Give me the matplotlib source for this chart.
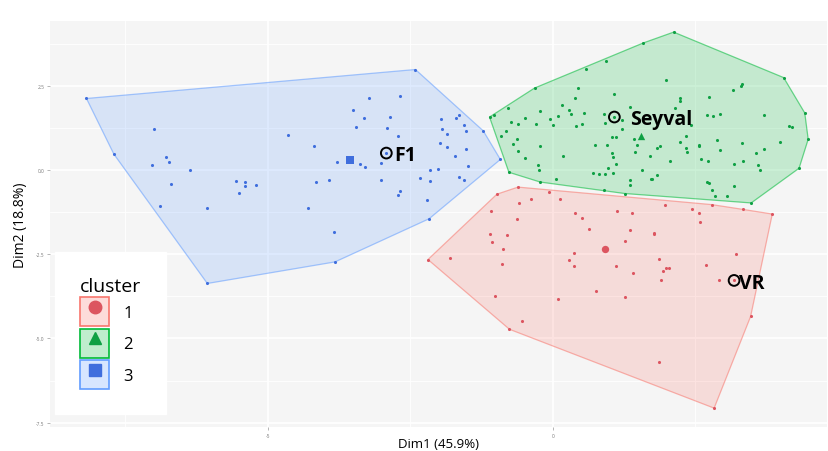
import matplotlib
matplotlib.use('Agg')
import matplotlib.pyplot as plt
from matplotlib.lines import Line2D
from matplotlib.patches import Patch
from matplotlib.colors import to_rgba
import numpy as np

plt.rcParams['font.family'] = ['Open Sans', 'DejaVu Sans']

# cluster 1 (red)
red_x = [-2.19, -0.98, -0.61, -0.60, -0.39, -0.06, 0.12, -1.09, -0.63, 0.39,
         0.51, 0.63, -1.11, -0.81, -1.07, -0.88, -1.81, 0.37, 0.28, 0.37,
         -0.89, 0.75, -1.02, 0.10, -0.54, -0.76, 3.85, 3.47, 2.83, 1.96,
         2.44, 2.79, 3.33, 1.12, 1.39, 2.56, 2.58, 1.35, 1.77, 1.78,
         1.27, 1.87, 3.21, 1.11, 2.69, 1.98, 2.03, 1.94, 1.41, 1.90,
         2.91, 3.18, 1.26, 1.86]
red_y = [-2.66, -0.72, -0.51, -0.97, -0.86, -0.66, -0.86, -1.23, -1.46, -1.27,
         -1.42, -1.75, -1.91, -1.93, -2.14, -2.36, -2.62, -2.46, -2.66, -2.85,
         -2.80, -3.59, -3.74, -3.84, -4.49, -4.73, -1.31, -4.35, -7.07, -1.03,
         -1.15, -1.03, -1.17, -1.23, -1.28, -1.28, -1.56, -1.78, -1.90, -1.87,
         -2.10, -2.63, -2.51, -2.84, -2.83, -2.92, -2.92, -3.01, -3.05, -3.26,
         -3.28, -3.28, -3.76, -5.70]

# cluster 2 (green)
green_x = [-1.11, -1.04, -0.78, -0.32, 0.58, 0.94, 1.59, 0.44, 0.39, 0.16,
           0.29, 0.54, 0.32, -0.22, -0.49, -0.05, 0.09, -0.74, -0.61, -0.29,
           0.01, 0.40, 0.52, 1.08, 1.36, 0.89, 1.08, 0.92, 1.21, 1.21,
           -0.82, -0.91, -0.62, -0.70, 1.03, 1.11, 1.43, -0.22, 0.74, 0.95,
           1.47, -0.61, 1.03, 1.45, 0.18, -0.49, 1.06, 1.71, -0.26, 1.11,
           0.97, -0.77, -0.25, 0.70, 0.81, 0.91, 1.06, 1.56, 0.06, -0.22,
           1.35, 1.73, 1.36, 0.89, 1.26, 2.12, 4.05, 4.42, 4.48, 4.32,
           3.48, 1.98, 3.32, 3.30, 3.16, 2.74, 2.23, 2.23, 2.15, 2.70,
           2.81, 2.93, 3.70, 2.42, 4.14, 4.19, 2.33, 2.88, 2.24, 3.32,
           3.98, 2.56, 2.57, 2.34, 2.35, 1.82, 1.88, 2.93, 3.70, 3.56,
           2.06, 2.60, 2.72, 3.17, 3.33, 3.60, 3.63, 1.82, 1.74, 2.70,
           2.74, 3.18, 2.79, 2.85, 3.05]
green_y = [1.57, 1.62, 1.85, 2.43, 2.99, 3.23, 3.77, 2.43, 2.12, 1.92,
           1.78, 1.69, 1.65, 1.76, 1.54, 1.51, 1.60, 1.42, 1.36, 1.36,
           1.34, 1.31, 1.37, 2.26, 1.87, 1.65, 1.57, 1.39, 1.48, 1.20,
           1.16, 1.02, 0.91, 0.78, 0.97, 0.97, 0.93, 0.72, 0.75, 0.73,
           0.75, 0.56, 0.51, 0.54, 0.42, 0.35, 0.39, 0.41, 0.16, 0.19,
           0.06, -0.07, 0.01, -0.08, -0.13, -0.11, -0.09, -0.01, -0.26, -0.36,
           -0.31, -0.27, -0.44, -0.60, -0.70, 4.09, 2.74, 1.69, 0.91, 0.05,
           -0.98, 2.66, 2.54, 2.49, 2.37, 2.16, 2.14, 2.05, 1.84, 1.63,
           1.61, 1.67, 1.62, 1.34, 1.30, 1.26, 1.01, 0.88, 0.83, 0.80,
           0.82, 0.74, 0.71, 0.66, 0.53, 0.64, 0.70, 0.58, 0.62, 0.51,
           0.27, 0.32, 0.26, 0.19, 0.27, 0.16, -0.01, -0.16, -0.28, -0.36,
           -0.38, -0.48, -0.61, -0.78, -0.78]

# cluster 3 (blue)
blue_x = [-8.18, -7.00, -7.70, -6.78, -6.73, -7.03, -6.37, -6.69, -5.55, -5.40,
          -5.40, -5.21, -5.50, -6.89, -6.07, -6.06, -4.64, -2.41, -3.22, -2.68,
          -3.50, -3.32, -2.86, -3.45, -2.91, -2.71, -4.19, -1.96, -1.69, -1.65,
          -1.55, -1.94, -1.85, -1.53, -1.22, -1.98, -1.86, -1.53, -1.71, -0.92,
          -3.78, -3.38, -3.29, -3.02, -2.92, -2.16, -2.01, -1.48, -2.33, -2.15,
          -1.64, -1.55, -3.02, -4.15, -3.92, -2.68, -2.72, -2.21, -4.30, -2.17,
          -3.84, -3.82]
blue_y = [2.12, 1.21, 0.47, 0.39, 0.24, 0.16, 0.00, -0.42, -0.32, -0.36,
          -0.47, -0.45, -0.69, -1.07, -1.14, -3.37, 1.05, 2.98, 2.14, 2.19,
          1.79, 1.53, 1.56, 1.28, 1.23, 1.00, 0.71, 1.51, 1.53, 1.62,
          1.34, 1.21, 1.08, 1.15, 1.16, 0.80, 0.67, 0.61, 0.42, 0.31,
          0.23, 0.17, 0.09, 0.22, 0.50, 0.01, 0.04, 0.11, -0.25, -0.32,
          -0.21, -0.29, -0.30, -0.36, -0.30, -0.63, -0.73, -0.88, -1.14, -1.45,
          -1.85, -2.73]

clusters = ['1', '2', '3']
centers_x = [0.91, 1.54, -3.56]
centers_y = [-2.35, 1.00, 0.28]

labels = ['F1', 'Seyval', 'VR']
labels_x = [-2.92, 1.08, 3.18]
labels_y = [0.50, 1.57, -3.28]

fill_colors = ['#F8766D', '#00BA38', '#619CFF']
dot_colors = ['#DC5560', '#0FA044', '#3F6EDD']
markers = ['o', '^', 's']
# label text offsets from the marked point, in points (repel-style placement)
label_offsets = [(5.5, -1.5), (11.0, -1.2), (3.5, -2.2)]


def convex_hull(xs, ys):
    pts = sorted(set(zip(xs, ys)))

    def cross(o, a, b):
        return (a[0] - o[0]) * (b[1] - o[1]) - (a[1] - o[1]) * (b[0] - o[0])

    lower, upper = [], []
    for p in pts:
        while len(lower) >= 2 and cross(lower[-2], lower[-1], p) <= 0:
            lower.pop()
        lower.append(p)
    for p in reversed(pts):
        while len(upper) >= 2 and cross(upper[-2], upper[-1], p) <= 0:
            upper.pop()
        upper.append(p)
    return np.array(lower[:-1] + upper[:-1])


fig = plt.figure(figsize=(8.29, 4.52), dpi=100)
fig.patch.set_facecolor('white')
ax = fig.add_axes([50 / 829, 24 / 452, 777 / 829, 406 / 452])
ax.set_facecolor('#F5F5F5')

ax.set_xlim(-8.82, 4.81)
ax.set_ylim(-7.63, 4.42)
ax.set_xticks([-5, 0])
ax.set_xticklabels(['-5', '0'])
ax.set_yticks([2.5, 0.0, -2.5, -5.0, -7.5])
ax.set_yticklabels(['2.5', '0.0', '-2.5', '-5.0', '-7.5'])
ax.set_xticks([-7.5, -2.5, 2.5], minor=True)
ax.set_yticks([3.75, 1.25, -1.25, -3.75, -6.25], minor=True)
ax.grid(which='major', color='white', lw=1.2)
ax.grid(which='minor', color='white', lw=0.6)
ax.set_axisbelow(True)
for s in ax.spines.values():
    s.set_visible(False)
ax.tick_params(which='major', labelsize=3.5, labelcolor='#777777', color='#999999',
               length=2, width=0.5, pad=2)
ax.tick_params(which='minor', length=0)

data = [(red_x, red_y), (green_x, green_y), (blue_x, blue_y)]
for i, (xs, ys) in enumerate(data):
    hull = convex_hull(xs, ys)
    ax.fill(hull[:, 0], hull[:, 1], facecolor=to_rgba(fill_colors[i], 0.2),
            edgecolor=to_rgba(fill_colors[i], 0.55), lw=0.9, zorder=2)
    ax.scatter(xs, ys, s=5, color=dot_colors[i], zorder=3, linewidths=0)
    ax.scatter([centers_x[i]], [centers_y[i]], s=28, marker=markers[i],
               color=dot_colors[i], zorder=4, linewidths=0)

ax.scatter(labels_x, labels_y, s=60, facecolors='none', edgecolors='black',
           linewidths=1.4, zorder=5)
for name, lx, ly, off in zip(labels, labels_x, labels_y, label_offsets):
    ax.annotate(name, (lx, ly), xytext=off, textcoords='offset points',
                ha='left', va='center', fontsize=14, fontweight='bold', zorder=6)

ax.set_xlabel('Dim1 (45.9%)', fontsize=9.5, va='center')
ax.xaxis.set_label_coords(0.5, -0.04)
ax.set_ylabel('Dim2 (18.8%)', fontsize=10, va='center')
ax.yaxis.set_label_coords(-0.038, 0.5)

handles = []
for i in range(3):
    patch = Patch(facecolor=to_rgba(fill_colors[i], 0.25), edgecolor=fill_colors[i], lw=1.2)
    mk = Line2D([], [], marker=markers[i], color=dot_colors[i], ls='none', ms=9)
    handles.append((patch, mk))
leg = ax.legend(handles, clusters, title='cluster', loc='lower left',
                bbox_to_anchor=(55 / 829, 37 / 452), bbox_transform=fig.transFigure,
                borderaxespad=0, handlelength=1.75, handleheight=2.3,
                handletextpad=0.85, labelspacing=0.15, borderpad=1.5,
                fontsize=12, title_fontsize=14, frameon=True,
                facecolor='white', edgecolor='white', framealpha=1,
                fancybox=False, alignment='left')

fig.savefig('out.png', dpi=100, facecolor='white')
